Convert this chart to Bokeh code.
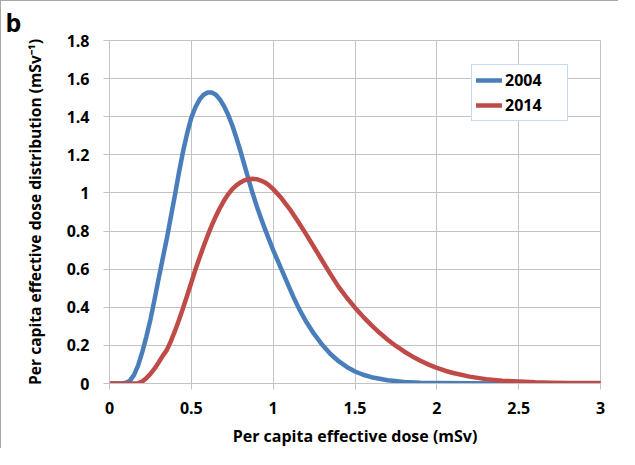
from bokeh.plotting import figure
from bokeh.models import Legend, LegendItem, FixedTicker, Range1d
from bokeh.embed import file_html
from bokeh.resources import INLINE

# ---- data ----
x_2004 = [0.000, 0.050, 0.080, 0.100, 0.125, 0.150, 0.175, 0.200, 0.225, 0.250, 0.275,
          0.300, 0.325, 0.350, 0.375, 0.400, 0.425, 0.450, 0.475, 0.500, 0.525, 0.550,
          0.575, 0.600, 0.625, 0.650, 0.675, 0.700, 0.725, 0.750, 0.775, 0.800, 0.825,
          0.850, 0.875, 0.900, 0.925, 0.950, 0.975, 1.000, 1.025, 1.050, 1.075, 1.100,
          1.125, 1.150, 1.175, 1.200, 1.250, 1.300, 1.350, 1.400, 1.450, 1.500, 1.550,
          1.600, 1.700, 1.800, 1.900, 2.000, 2.200, 2.500, 3.000]
y_2004 = [0.0, 0.0, 0.0, 0.004, 0.015, 0.045, 0.095, 0.165, 0.245, 0.335, 0.44,
          0.55, 0.655, 0.76, 0.875, 0.99, 1.11, 1.22, 1.315, 1.395, 1.45, 1.49,
          1.515, 1.527, 1.527, 1.515, 1.49, 1.455, 1.41, 1.355, 1.29, 1.22, 1.145,
          1.07, 0.997, 0.93, 0.868, 0.81, 0.755, 0.70, 0.65, 0.60, 0.55, 0.50,
          0.452, 0.407, 0.365, 0.327, 0.26, 0.203, 0.155, 0.117, 0.087, 0.063, 0.046,
          0.033, 0.017, 0.008, 0.004, 0.002, 0.001, 0.0, 0.0]

x_2014 = [0.000, 0.100, 0.150, 0.175, 0.200, 0.225, 0.250, 0.275, 0.300, 0.325, 0.350,
          0.375, 0.400, 0.425, 0.450, 0.475, 0.500, 0.525, 0.550, 0.575, 0.600, 0.625,
          0.650, 0.675, 0.700, 0.725, 0.750, 0.775, 0.800, 0.825, 0.850, 0.875, 0.900,
          0.925, 0.950, 0.975, 1.000, 1.050, 1.100, 1.150, 1.200, 1.250, 1.300, 1.350,
          1.400, 1.450, 1.500, 1.550, 1.600, 1.650, 1.700, 1.750, 1.800, 1.850, 1.900,
          1.950, 2.000, 2.050, 2.100, 2.200, 2.300, 2.400, 2.500, 2.600, 2.700, 2.800,
          2.900, 3.000]
y_2014 = [0.0, 0.0, 0.0, 0.002, 0.01, 0.028, 0.05, 0.078, 0.11, 0.145, 0.175,
          0.222, 0.276, 0.335, 0.398, 0.463, 0.53, 0.598, 0.66, 0.72, 0.777, 0.83,
          0.878, 0.922, 0.96, 0.993, 1.02, 1.04, 1.055, 1.066, 1.072, 1.074, 1.072,
          1.065, 1.055, 1.04, 1.02, 0.973, 0.917, 0.853, 0.785, 0.715, 0.644, 0.574,
          0.507, 0.45, 0.398, 0.35, 0.306, 0.266, 0.23, 0.197, 0.168, 0.142, 0.119,
          0.099, 0.082, 0.067, 0.055, 0.036, 0.023, 0.015, 0.01, 0.006, 0.004, 0.003,
          0.002, 0.002]

x_ticks = [0, 0.5, 1, 1.5, 2, 2.5, 3]
x_tick_labels = ["0", "0.5", "1", "1.5", "2", "2.5", "3"]
y_ticks = [0, 0.2, 0.4, 0.6, 0.8, 1.0, 1.2, 1.4, 1.6, 1.8]
y_tick_labels = ["0", "0.2", "0.4", "0.6", "0.8", "1", "1.2", "1.4", "1.6", "1.8"]

series_names = ["2004", "2014"]
series_colors = ["#4A7EBB", "#BE4B48"]

FONT = "Open Sans"
GRID = "#c3c3c3"

p = figure(width=618, height=448, x_range=Range1d(0, 3), y_range=Range1d(0, 1.8),
           output_backend="svg", toolbar_location=None,
           min_border_left=108, min_border_right=19, min_border_top=37, min_border_bottom=62)
p.styles = {"border-top": "1px solid #a8a8a8", "border-left": "1px solid #a8a8a8"}

p.outline_line_color = GRID
p.background_fill_color = "white"
p.border_fill_color = "white"

# panel letter
p.title.text = "b"
p.title.text_font = FONT
p.title.text_font_style = "bold"
p.title.text_font_size = "25px"
p.title.text_color = "black"
p.title.align = "left"
p.title.offset = -104
p.title.standoff = 3

p.xaxis.ticker = FixedTicker(ticks=x_ticks)
p.yaxis.ticker = FixedTicker(ticks=y_ticks)
p.xaxis.major_label_overrides = {t: l for t, l in zip(x_ticks, x_tick_labels)}
p.yaxis.major_label_overrides = {t: l for t, l in zip(y_ticks, y_tick_labels)}

p.xgrid.grid_line_color = GRID
p.ygrid.grid_line_color = GRID
p.xgrid.grid_line_width = 1
p.ygrid.grid_line_width = 1

for ax in (p.xaxis, p.yaxis):
    ax.axis_line_color = GRID
    ax.major_tick_line_color = GRID
    ax.major_tick_out = 6
    ax.major_tick_in = 0
    ax.minor_tick_line_color = None
    ax.major_label_text_font = FONT
    ax.major_label_text_font_style = "bold"
    ax.major_label_text_font_size = "16px"
    ax.major_label_text_color = "black"
    ax.axis_label_text_font = FONT
    ax.axis_label_text_font_style = "bold"
    ax.axis_label_text_color = "black"

p.xaxis.axis_label_text_font_size = "16px"
p.yaxis.axis_label_text_font_size = "15.6px"
p.xaxis.major_label_standoff = 12
p.yaxis.major_label_standoff = 14
p.xaxis.axis_label = "Per capita effective dose (mSv)"
p.yaxis.axis_label = "Per capita effective dose distribution (mSv\u207b\u00b9)"
p.xaxis.axis_label_standoff = 8
p.yaxis.axis_label_standoff = 18

r1 = p.line(x_2004, y_2004, line_color=series_colors[0], line_width=4.5,
            line_cap="round", line_join="round")
r2 = p.line(x_2014, y_2014, line_color=series_colors[1], line_width=4.5,
            line_cap="round", line_join="round")

legend = Legend(items=[LegendItem(label=series_names[0], renderers=[r1]),
                       LegendItem(label=series_names[1], renderers=[r2])],
                location=(362, 262))
legend.border_line_color = "#8eb4e3"
legend.border_line_width = 1
legend.background_fill_color = "white"
legend.background_fill_alpha = 1
legend.padding = 4
legend.spacing = 3
legend.margin = 0
legend.glyph_width = 26
legend.glyph_height = 12
legend.label_height = 12
legend.label_width = 58
legend.label_standoff = 3
legend.label_text_font = FONT
legend.label_text_font_style = "bold"
legend.label_text_font_size = "16px"
legend.label_text_color = "black"
p.add_layout(legend)

open("out.html", "w").write(file_html(p, INLINE))
